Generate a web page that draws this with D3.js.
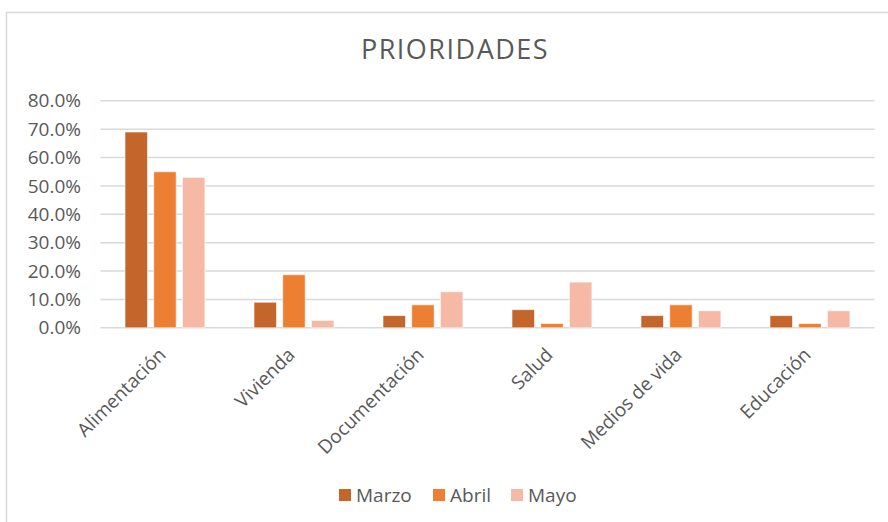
<!DOCTYPE html>
<html>
<head>
<meta charset="utf-8">
<script src="https://cdn.jsdelivr.net/npm/d3@7"></script>
<style>
  body { margin: 0; background: #fff; }
  svg text { font-family: "Open Sans", sans-serif; fill: #595959; }
</style>
</head>
<body>
<div id="chart"></div>
<script>
// data
const categories = ["Alimentación", "Vivienda", "Documentación", "Salud", "Medios de vida", "Educación"];
const seriesNames = ["Marzo", "Abril", "Mayo"];
const marzo = [0.69, 0.09, 0.043, 0.064, 0.043, 0.043];
const abril = [0.55, 0.187, 0.081, 0.015, 0.081, 0.015];
const mayo = [0.53, 0.026, 0.127, 0.161, 0.06, 0.06];
const yTicks = [0, 0.1, 0.2, 0.3, 0.4, 0.5, 0.6, 0.7, 0.8];

const colors = d3.scaleOrdinal()
  .domain(seriesNames)
  .range(["#c4652b", "#ed7f33", "#f5b9a6"]);

const W = 888, H = 522;
const svg = d3.select("#chart").append("svg")
  .attr("width", W)
  .attr("height", H);

// chart frame
svg.append("rect")
  .attr("x", 6.5).attr("y", 12.5)
  .attr("width", 900).attr("height", 520)
  .attr("fill", "none")
  .attr("stroke", "#d9d9d9")
  .attr("stroke-width", 1.5);

const x0 = d3.scaleBand().domain(categories).range([100.5, 874.5]);
const x1 = d3.scaleBand().domain(seriesNames).range([24.5, 104.4]).paddingInner(0.216);
const y = d3.scaleLinear().domain([0, 0.8]).range([327.8, 100.8]);

// gridlines
svg.append("g")
  .selectAll("line")
  .data(yTicks)
  .join("line")
  .attr("x1", 100.5).attr("x2", 874.5)
  .attr("y1", d => y(d)).attr("y2", d => y(d))
  .attr("stroke", "#d9d9d9")
  .attr("stroke-width", 1.5);

// y axis labels
const yAxis = d3.axisLeft(y).tickValues(yTicks).tickFormat(d3.format(".1%")).tickSize(0).tickPadding(0);
const yg = svg.append("g").attr("transform", "translate(81,0)").call(yAxis);
yg.select(".domain").remove();
yg.selectAll("text")
  .attr("font-size", 19)
  .style("font-family", "'Open Sans', sans-serif")
  .attr("fill", "#595959");

// bars
const rows = categories.map((c, i) => ({
  cat: c,
  vals: [
    { s: "Marzo", v: marzo[i] },
    { s: "Abril", v: abril[i] },
    { s: "Mayo", v: mayo[i] }
  ]
}));

const groups = svg.append("g")
  .selectAll("g")
  .data(rows)
  .join("g")
  .attr("transform", d => `translate(${x0(d.cat)},0)`);

groups.selectAll("rect")
  .data(d => d.vals)
  .join("rect")
  .attr("x", d => x1(d.s))
  .attr("width", x1.bandwidth())
  .attr("y", d => y(d.v))
  .attr("height", d => y(0) - y(d.v))
  .attr("fill", d => colors(d.s))
  .attr("stroke", "#fff")
  .attr("stroke-opacity", 0.6)
  .attr("stroke-width", 1);

// x axis labels, rotated
svg.append("g")
  .selectAll("text")
  .data(categories)
  .join("text")
  .attr("transform", d => `translate(${x0(d) + x0.bandwidth() / 2 + 2},${356}) rotate(-45)`)
  .attr("text-anchor", "end")
  .attr("font-size", 19)
  .text(d => d);

// title
svg.append("text")
  .attr("x", 455)
  .attr("y", 59)
  .attr("text-anchor", "middle")
  .attr("font-size", 27)
  .attr("letter-spacing", 1.5)
  .text("PRIORIDADES");

// legend
const legendX = [339, 433, 511];
const legend = svg.append("g")
  .selectAll("g")
  .data(seriesNames)
  .join("g")
  .attr("transform", (d, i) => `translate(${legendX[i]},489)`);

legend.append("rect")
  .attr("width", 12).attr("height", 12)
  .attr("fill", d => colors(d));

legend.append("text")
  .attr("x", 17)
  .attr("y", 12.5)
  .attr("font-size", 19)
  .text(d => d);
</script>
</body>
</html>
